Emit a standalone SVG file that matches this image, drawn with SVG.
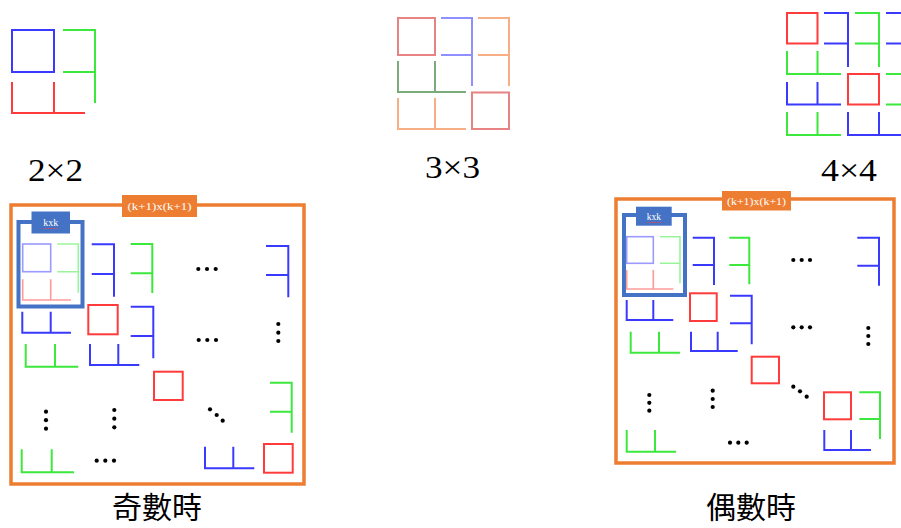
<svg xmlns="http://www.w3.org/2000/svg" width="901" height="528" viewBox="0 0 901 528">
<style>
.b{fill:none;stroke:#3a3aff;stroke-width:2}
.g{fill:none;stroke:#3ce83c;stroke-width:2}
.r{fill:none;stroke:#ff3b3b;stroke-width:2}
.fb{fill:none;stroke:#9a9aff;stroke-width:1.6}
.fg{fill:none;stroke:#9af59a;stroke-width:1.6}
.fr{fill:none;stroke:#ff9a9a;stroke-width:1.6}
.t3r{fill:none;stroke:#e05a5a;stroke-width:2;stroke-opacity:.75}
.t3b{fill:none;stroke:#6a6aff;stroke-width:2;stroke-opacity:.75}
.t3o{fill:none;stroke:#f7a070;stroke-width:2;stroke-opacity:.85}
.t3g{fill:none;stroke:#4f8f4f;stroke-width:2;stroke-opacity:.75}
.frame{fill:none;stroke:#ed7d31;stroke-width:3.5}
.lab{fill:#ed7d31}
.kf{fill:none;stroke:#4472c4;stroke-width:4}
.kl{fill:#4472c4}
.dot{fill:#000}
.size{font-family:"Liberation Serif",serif;font-size:32px;fill:#000}
.cap{font-family:"Noto Sans CJK TC","Noto Sans CJK SC",sans-serif;font-size:30px;fill:#000}
.lt{font-family:"Liberation Serif",serif;font-size:10px;fill:#fff}
</style>
<defs>
<circle id="d" r="2.1" class="dot"/>
</defs>

<g id="grid2x2">
<rect x="12" y="30" width="42" height="42" class="b"/>
<path d="M63,30H95V103M63,72H95" class="g"/>
<path d="M12,82V113H85M54,82V113" class="r"/>
</g>
<text id="label2x2" class="size" x="28" y="181" textLength="55" lengthAdjust="spacingAndGlyphs">2×2</text>

<g id="grid3x3">
<rect x="398" y="18" width="37" height="37" class="t3r"/>
<path d="M441,18H472V86M441,55H472" class="t3b"/>
<path d="M478,18H509V86M478,55H509" class="t3o"/>
<path d="M398,61V92H466M435,61V92" class="t3g"/>
<path d="M398,98V129H466M435,98V129" class="t3o"/>
<rect x="472" y="92.5" width="37" height="36.5" class="t3r"/>
</g>
<text id="label3x3" class="size" x="425" y="178" textLength="55" lengthAdjust="spacingAndGlyphs">3×3</text>

<g id="grid4x4">
<rect x="787" y="13" width="30.5" height="30.5" class="r"/>
<path d="M824,13H848V67M824,43.5H848" class="b"/>
<path d="M855,13H879V67M855,43.5H879" class="g"/>
<path d="M886,13H905M886,43.5H905" class="b"/>
<path d="M787,51V74H841M817.5,51V74" class="g"/>
<rect x="848" y="74" width="31" height="30.5" class="r"/>
<path d="M886,74H905M886,104.5H905" class="g"/>
<path d="M787,82V104.5H841M817.5,82V104.5" class="b"/>
<path d="M787,112V135H841M817.5,112V135" class="g"/>
<path d="M848,112V135H905M879,112V135" class="b"/>
</g>
<text id="label4x4" class="size" x="821" y="181" textLength="56" lengthAdjust="spacingAndGlyphs">4×4</text>

<g id="oddDiagram">
<rect x="11" y="205" width="293" height="279" class="frame"/>
<rect x="122" y="195" width="75" height="22" class="lab"/>
<text class="lt" x="159.5" y="210" text-anchor="middle" textLength="64" lengthAdjust="spacingAndGlyphs">(k+1)x(k+1)</text>
<rect x="18.5" y="222" width="64" height="84.5" class="kf"/>
<rect x="31.5" y="211.5" width="38.5" height="22" class="kl"/>
<text class="lt" x="50.7" y="225.5" text-anchor="middle">kxk</text>
<path d="M43,228.5H58.5" stroke="#ff4040" stroke-width="0.8" fill="none" stroke-dasharray="1.5 1"/>
<rect x="22.7" y="244" width="28" height="27.7" class="fb"/>
<path d="M57.3,244H78.3V292.7M57.3,271.7H78.3" class="fg"/>
<path d="M22.7,279.3V300H71M50.7,279.3V300" class="fr"/>
<path d="M91.7,244.3H114V296.7M91.7,274H114" class="b"/>
<path d="M130.7,244H152.3V293M130.7,273.3H152.3" class="g"/>
<path d="M22.3,311.7V332.7H71M50.7,311.7V332.7" class="b"/>
<rect x="88.3" y="305" width="29.4" height="29.3" class="r"/>
<path d="M130.7,306.7H153.3V358.3M130.7,336H153.3" class="b"/>
<path d="M25.7,344V366.7H78.3M55,344V366.7" class="g"/>
<path d="M90,344V365H139.3M118.3,344V365" class="b"/>
<rect x="154" y="371.7" width="28.7" height="28.3" class="r"/>
<use href="#d" x="198.3" y="269"/><use href="#d" x="207" y="269"/><use href="#d" x="215.7" y="269"/>
<path d="M266,246H288.3V297.3M266,275H288.3" class="b"/>
<use href="#d" x="278.3" y="324"/><use href="#d" x="278.3" y="332.7"/><use href="#d" x="278.3" y="341"/>
<use href="#d" x="198.7" y="340"/><use href="#d" x="207.3" y="340"/><use href="#d" x="216" y="340"/>
<use href="#d" x="210" y="409.3"/><use href="#d" x="216.7" y="415"/><use href="#d" x="222.7" y="420.7"/>
<path d="M270,382.7H291.7V432.7M270,411.7H291.7" class="g"/>
<use href="#d" x="46" y="411.7"/><use href="#d" x="46" y="420.2"/><use href="#d" x="46" y="428.7"/>
<use href="#d" x="114.3" y="410"/><use href="#d" x="114.3" y="418.7"/><use href="#d" x="114.3" y="427.3"/>
<path d="M21.7,449.3V472.3H74M51.7,449.3V472.3" class="g"/>
<use href="#d" x="96.7" y="460.7"/><use href="#d" x="105.3" y="460.7"/><use href="#d" x="114" y="460.7"/>
<path d="M205,446.7V468.3H254.3M233.3,446.7V468.3" class="b"/>
<rect x="264" y="444" width="28.7" height="28.7" class="r"/>
</g>
<text id="captionOdd" class="cap" x="157" y="518" text-anchor="middle">奇數時</text>

<g id="evenDiagram">
<rect x="616" y="199" width="278" height="264" class="frame"/>
<rect x="722" y="191" width="69" height="19.5" class="lab"/>
<text class="lt" x="756.5" y="204.5" text-anchor="middle" textLength="59" lengthAdjust="spacingAndGlyphs" style="font-size:9.5px">(k+1)x(k+1)</text>
<rect x="624" y="215" width="61" height="80" class="kf"/>
<rect x="636" y="206.7" width="35.7" height="19" class="kl"/>
<text class="lt" x="653.8" y="219.5" text-anchor="middle" style="font-size:9.5px">kxk</text>
<path d="M647,222.5H661" stroke="#ff4040" stroke-width="0.8" fill="none" stroke-dasharray="1.5 1"/>
<rect x="626.7" y="236.7" width="26.6" height="26.6" class="fb"/>
<path d="M660,236.7H680V283.3M660,263.3H680" class="fg"/>
<path d="M626.7,270V289H673.3M653.3,270V289" class="fr"/>
<path d="M692.7,237.7H714V285M692.7,265H714" class="b"/>
<path d="M729.3,237.7H749.3V284.3M729.3,265H749.3" class="g"/>
<path d="M626.7,300V320H673.3M653.3,300V320" class="b"/>
<rect x="690" y="293.3" width="26.7" height="27.7" class="r"/>
<path d="M730,295.7H751.7V344.3M730,323.3H751.7" class="b"/>
<path d="M630.7,331.7V352.7H680M659,331.7V352.7" class="g"/>
<path d="M691,331.7V351H737.7M717.7,331.7V351" class="b"/>
<rect x="751.7" y="356.7" width="27.3" height="26.6" class="r"/>
<use href="#d" x="793.3" y="260"/><use href="#d" x="801.7" y="260"/><use href="#d" x="810" y="260"/>
<path d="M857.3,237.7H879V285.7M857.3,265.7H879" class="b"/>
<use href="#d" x="793.3" y="327.3"/><use href="#d" x="801.7" y="327.3"/><use href="#d" x="810" y="327.3"/>
<use href="#d" x="868.3" y="328"/><use href="#d" x="868.3" y="336"/><use href="#d" x="868.3" y="344"/>
<use href="#d" x="793.3" y="386.7"/><use href="#d" x="800" y="391.3"/><use href="#d" x="806.7" y="396.7"/>
<rect x="824" y="392.3" width="27" height="27" class="r"/>
<path d="M859.3,392.3H880V439M859.3,419H880" class="g"/>
<path d="M824.3,430V450H871M851,430V450" class="b"/>
<use href="#d" x="649.3" y="395"/><use href="#d" x="649.3" y="402.8"/><use href="#d" x="649.3" y="410.7"/>
<use href="#d" x="712.7" y="390.7"/><use href="#d" x="712.7" y="399"/><use href="#d" x="712.7" y="407"/>
<path d="M626.7,430V451.7H676M655,430V451.7" class="g"/>
<use href="#d" x="730" y="442.7"/><use href="#d" x="738.3" y="442.7"/><use href="#d" x="746.7" y="442.7"/>
</g>
<text id="captionEven" class="cap" x="751" y="518" text-anchor="middle">偶數時</text>
</svg>
